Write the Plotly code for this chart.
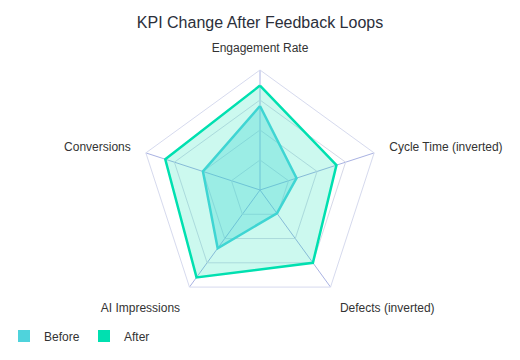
import plotly.graph_objects as go

categories = ["Engagement Rate", "Cycle Time (inverted)", "Defects (inverted)", "AI Impressions", "Conversions"]
before_values = [70, 32, 24, 60, 50]
after_values = [87, 67, 75, 90, 83]
series_names = ["Before", "After"]

before_color = "#4fd3dc"
after_color = "#00e0b0"

# the page body adds an 8px offset; positions below compensate for it
OFF = 8
W, H = 520, 360

fig = go.Figure()
fig.add_trace(go.Scatterpolar(
    r=before_values + before_values[:1],
    theta=categories + categories[:1],
    name=series_names[0],
    mode="lines",
    fill="toself",
    line=dict(color=before_color, width=2.5),
    fillcolor="rgba(79,211,220,0.35)",
    showlegend=False,
))
fig.add_trace(go.Scatterpolar(
    r=after_values + after_values[:1],
    theta=categories + categories[:1],
    name=series_names[1],
    mode="lines",
    fill="toself",
    line=dict(color=after_color, width=2.5),
    fillcolor="rgba(0,224,176,0.2)",
    showlegend=False,
))
# legend entries (square swatches)
for nm, col in zip(series_names, [before_color, after_color]):
    fig.add_trace(go.Scatterpolar(
        r=[None], theta=[None], name=nm, mode="markers",
        marker=dict(symbol="square", size=12, color=col),
        showlegend=True,
    ))

cx, cy, R = 260 - OFF, 190 - OFF, 120

fig.update_layout(
    width=W, height=H,
    margin=dict(l=0, r=0, t=0, b=0, autoexpand=False),
    paper_bgcolor="white",
    plot_bgcolor="white",
    font=dict(family="Liberation Sans, Arial, sans-serif", color="#333333", size=12),
    title=dict(text="KPI Change After Feedback Loops", x=(260 - OFF) / W, xanchor="center",
               xref="container", y=1 - (22 - OFF) / H, yanchor="middle",
               font=dict(size=16, color="#2b2f3a")),
    polar=dict(
        domain=dict(x=[(cx - R) / W, (cx + R) / W], y=[(H - cy - R) / H, (H - cy + R) / H]),
        gridshape="linear",
        bgcolor="white",
        radialaxis=dict(range=[0, 100], tickvals=[25, 50, 75, 100], showticklabels=False,
                        ticks="", showline=False, gridcolor="#d6d9e8", gridwidth=1),
        angularaxis=dict(direction="clockwise", rotation=90,
                         ticks="outside", ticklen=13, tickcolor="rgba(0,0,0,0)",
                         showline=True, linecolor="#d6daee", linewidth=1,
                         gridcolor="#a9b2e2", gridwidth=1,
                         tickfont=dict(size=12, color="#333333")),
    ),
    showlegend=True,
    legend=dict(orientation="h", x=(24 - OFF - 20) / W, xanchor="left",
                y=(H - (336 - OFF)) / H, yanchor="middle",
                font=dict(size=12, color="#333333"),
                entrywidth=35, entrywidthmode="pixels",
                bgcolor="rgba(0,0,0,0)"),
)

fig.write_html("out.html")
